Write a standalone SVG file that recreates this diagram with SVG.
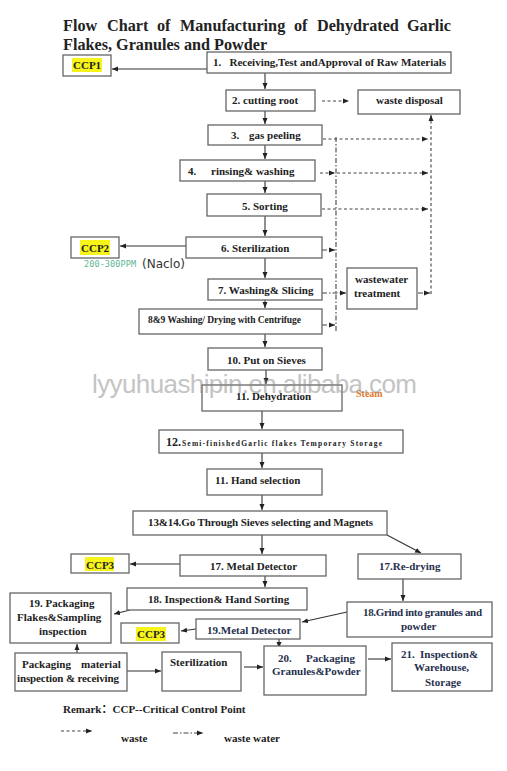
<svg xmlns="http://www.w3.org/2000/svg" width="507" height="771" viewBox="0 0 507 771">
<defs>
<marker id="ah" viewBox="0 0 6 6" markerWidth="6" markerHeight="6" refX="6" refY="3" orient="auto" markerUnits="userSpaceOnUse">
<path d="M0,0.5 L6,3 L0,5.5 z" fill="#222"/>
</marker>
</defs>
<style>
.box{fill:#fff;stroke:#666;stroke-width:1.3}
.t{font-family:"Liberation Serif","Times New Roman",serif;font-weight:bold;font-size:11px;fill:#222}
.n{fill:#27304e}
.ttl{font-family:"Liberation Serif","Times New Roman",serif;font-weight:bold;font-size:16.2px;fill:#222}
.hl{fill:#f7f41a}
.c{fill:none;stroke:#333;stroke-width:1.1;marker-end:url(#ah)}
.w{fill:none;stroke:#444;stroke-width:1.1;stroke-dasharray:3,2.5;marker-end:url(#ah)}
.ww{fill:none;stroke:#444;stroke-width:1.1;stroke-dasharray:5,2,1.5,2;marker-end:url(#ah)}
.wwl{fill:none;stroke:#444;stroke-width:1.1;stroke-dasharray:5,2,1.5,2}
</style>
<rect width="507" height="771" fill="#fff"/>
<g id="title">
<text class="ttl" y="31"><tspan x="63">Flow</tspan><tspan x="107">Chart</tspan><tspan x="157">of</tspan><tspan x="180">Manufacturing</tspan><tspan x="294">of</tspan><tspan x="317">Dehydrated</tspan><tspan x="407">Garlic</tspan></text>
<text class="ttl" x="63" y="50">Flakes, Granules and Powder</text>
</g>
<g id="connectors">
<path class="c" d="M207,69 H112"/>
<path class="c" d="M265,73 V89"/>
<path class="c" d="M265,111 V124"/>
<path class="c" d="M265,145 V159"/>
<path class="c" d="M265,181 V193"/>
<path class="c" d="M265,216 V236"/>
<path class="c" d="M186,246 H120"/>
<path class="c" d="M265,258 V278"/>
<path class="c" d="M265,292 V308"/>
<path class="c" d="M265,334 V347"/>
<path class="c" d="M266,370 V384"/>
<path class="c" d="M262,411 V429"/>
<path class="c" d="M262,453 V468"/>
<path class="c" d="M262,495 V510"/>
<path class="c" d="M262,535 V554"/>
<path class="c" d="M387,535 L421,553"/>
<path class="c" d="M180,564 H130"/>
<path class="c" d="M265,576 V587"/>
<path class="c" d="M403,579 V601"/>
<path class="c" d="M130,610 L114,614"/>
<path class="c" d="M347,612 L302,622"/>
<path class="c" d="M196,629 L181,631"/>
<path class="c" d="M279,639 V648"/>
<path class="c" d="M77,653 V644"/>
<path class="c" d="M127,671 H161"/>
<path class="c" d="M244,667 H263"/>
<path class="c" d="M368,659 H391"/>
<path class="w" d="M322,101 H349"/>
<path class="w" d="M323,139 H428"/>
<path class="w" d="M320,173 H335"/>
<path class="w" d="M337,173 H428"/>
<path class="w" d="M322,209 H428"/>
<path class="w" d="M431,294 V115"/>
<path class="wwl" d="M336,137 V333"/>
<path class="ww" d="M322,250 H335"/>
<path class="ww" d="M322,293 H346"/>
<path class="ww" d="M322,325 H335"/>
<path class="ww" d="M418,293 H430"/>
</g>
<g id="ccp1"><rect class="box" x="63" y="55" width="48" height="21"/><rect class="hl" x="72" y="58" width="30" height="14"/><text class="t" x="73" y="69">CCP1</text></g>
<g id="n1"><rect class="box" x="207" y="52" width="244" height="21"/><text class="t" x="213" y="66" xml:space="preserve">1.   Receiving,Test andApproval of Raw Materials</text></g>
<g id="n2"><rect class="box" x="226" y="90" width="89" height="21"/><text class="t" x="232" y="104">2. cutting root</text></g>
<g id="waste"><rect class="box" x="358" y="90" width="102" height="24"/><text class="t" x="376" y="104">waste disposal</text></g>
<g id="n3"><rect class="box" x="208" y="125" width="114" height="20"/><text class="t" x="231" y="139">3.</text><text class="t" x="249" y="139">gas peeling</text></g>
<g id="n4"><rect class="box" x="180" y="160" width="135" height="21"/><text class="t" x="188" y="175">4.</text><text class="t" x="211" y="175">rinsing&amp; washing</text></g>
<g id="n5"><rect class="box" x="207" y="194" width="114" height="22"/><text class="t" x="242" y="210">5. Sorting</text></g>
<g id="ccp2"><rect class="box" x="71" y="237" width="48" height="21"/><rect class="hl" x="80" y="240" width="30" height="15"/><text class="t" x="81" y="252">CCP2</text>
<text x="84" y="267" style="font-family:'DejaVu Sans Mono',monospace;font-size:8.5px;fill:#5cb894" textLength="52">200-300PPM</text>
<text x="142" y="268" style="font-family:'DejaVu Sans',sans-serif;font-size:12px;fill:#333">(Naclo)</text></g>
<g id="n6"><rect class="box" x="186" y="237" width="136" height="21"/><text class="t" x="221" y="252">6. Sterilization</text></g>
<g id="n7"><rect class="box" x="208" y="279" width="114" height="21"/><text class="t" x="218" y="294">7. Washing&amp; Slicing</text></g>
<g id="wwt"><rect class="box" x="347" y="268" width="70" height="41"/><text class="t" x="355" y="283">wastewater</text><text class="t" x="354" y="297">treatment</text></g>
<g id="n8"><rect class="box" x="139" y="309" width="183" height="25"/><text class="t" x="148" y="323" style="font-size:9.5px" textLength="153">8&amp;9 Washing/ Drying with Centrifuge</text></g>
<g id="n10"><rect class="box" x="208" y="348" width="114" height="22"/><text class="t" x="227" y="364">10. Put on Sieves</text></g>
<g id="n11"><rect class="box" x="202" y="385" width="140" height="26"/><text class="t" x="236" y="400">11. Dehydration</text>
<text x="356" y="397" style="font-family:'Liberation Serif',serif;font-weight:bold;font-size:10px;fill:#e07a30">Steam</text></g>
<g id="n12"><rect class="box" x="159" y="430" width="244" height="23"/><text class="t" x="166" y="446" style="font-size:12px">12.</text><text class="t" x="182" y="446" style="font-size:7.5px" textLength="200">Semi-finishedGarlic flakes Temporary Storage</text></g>
<g id="hand"><rect class="box" x="207" y="469" width="115" height="26"/><text class="t" x="215" y="484">11. Hand selection</text></g>
<g id="n13"><rect class="box" x="133" y="511" width="254" height="24"/><text class="t" x="148" y="526" textLength="225">13&amp;14.Go Through Sieves selecting and Magnets</text></g>
<g id="ccp3a"><rect class="box" x="71" y="554" width="58" height="19"/><rect class="hl" x="85" y="557" width="29" height="14"/><text class="t" x="86" y="569">CCP3</text></g>
<g id="n17"><rect class="box" x="180" y="555" width="146" height="21"/><text class="t" x="210" y="570">17. Metal Detector</text></g>
<g id="redry"><rect class="box" x="358" y="554" width="103" height="25"/><text class="t n" x="379" y="570">17.Re-drying</text></g>
<g id="n18"><rect class="box" x="127" y="588" width="180" height="22"/><text class="t" x="148" y="603">18. Inspection&amp; Hand Sorting</text></g>
<g id="n19p"><rect class="box" x="10" y="593" width="101" height="50"/><text class="t" x="29" y="607">19. Packaging</text><text class="t" x="17" y="621">Flakes&amp;Sampling</text><text class="t" x="39" y="635">inspection</text></g>
<g id="grind"><rect class="box" x="347" y="602" width="145" height="35"/><text class="t n" x="363" y="616" textLength="119">18.Grind into granules and</text><text class="t n" x="401" y="630">powder</text></g>
<g id="ccp3b"><rect class="box" x="121" y="623" width="58" height="20"/><rect class="hl" x="136" y="627" width="30" height="14"/><text class="t" x="137" y="638">CCP3</text></g>
<g id="n19m"><rect class="box" x="196" y="619" width="104" height="20"/><text class="t n" x="207" y="634">19.Metal Detector</text></g>
<g id="pm"><rect class="box" x="15" y="653" width="112" height="38"/><text class="t" y="668"><tspan x="22">Packaging</tspan><tspan x="81">material</tspan></text><text class="t" x="17" y="682" textLength="102">inspection &amp; receiving</text></g>
<g id="ster"><rect class="box" x="162" y="652" width="79" height="39"/><text class="t" x="170" y="666">Sterilization</text></g>
<g id="n20"><rect class="box" x="264" y="646" width="102" height="49"/><text class="t n" y="662"><tspan x="278">20.</tspan><tspan x="306">Packaging</tspan></text><text class="t n" x="272" y="675">Granules&amp;Powder</text></g>
<g id="n21"><rect class="box" x="392" y="643" width="100" height="48"/><text class="t n" y="658"><tspan x="401">21.</tspan><tspan x="420">Inspection&amp;</tspan></text><text class="t n" x="414" y="671">Warehouse,</text><text class="t n" x="425" y="686">Storage</text></g>
<g id="legend">
<text class="t" x="63" y="713" style="font-family:'Liberation Serif','Noto Sans CJK SC',serif">Remark：CCP--Critical Control Point</text>
<path class="w" d="M61,731 H92"/>
<text class="t" x="121" y="742">waste</text>
<path class="ww" d="M173,733 H203"/>
<text class="t" x="224" y="742">waste water</text>
</g>
<text x="92" y="393" textLength="325" style="font-family:'Liberation Sans',Arial,sans-serif;font-size:26px;fill:#8a8a8a;opacity:0.5">lyyuhuashipin.en.alibaba.com</text>
</svg>
